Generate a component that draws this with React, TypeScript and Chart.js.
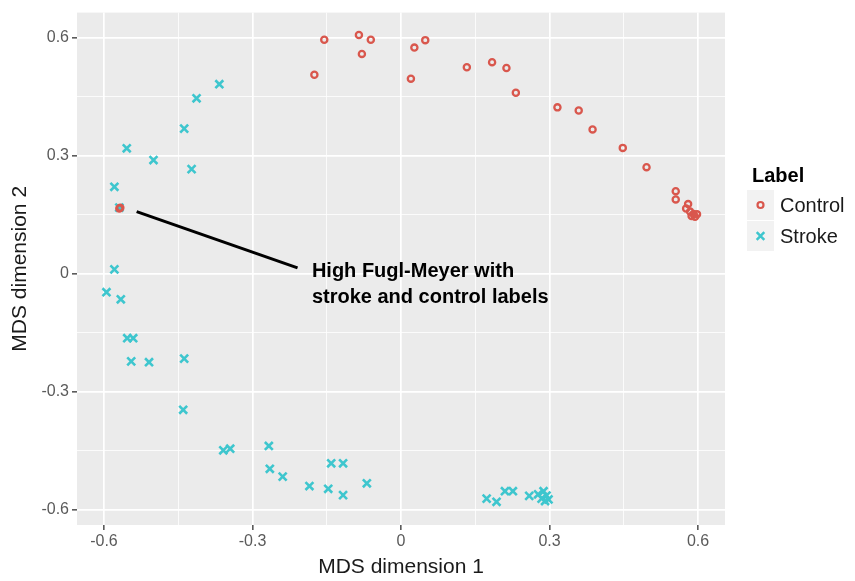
import React, { useEffect, useRef } from 'react';
import { Chart, registerables } from 'chart.js';

Chart.register(...registerables);

// ---------- data ----------
const CONTROL_X = [
  -0.175, -0.155, -0.085, -0.061, -0.079,
  0.020, 0.027, 0.049,
  0.133, 0.184, 0.213, 0.232,
  0.316, 0.359, 0.387,
  0.448, 0.496,
  0.555, 0.555,
  0.580, 0.576, 0.584, 0.591, 0.594, 0.587, 0.598,
  -0.569, -0.567,
];
const CONTROL_Y = [
  0.506, 0.595, 0.607, 0.595, 0.559,
  0.496, 0.575, 0.594,
  0.525, 0.538, 0.523, 0.460,
  0.423, 0.415, 0.367,
  0.320, 0.271,
  0.210, 0.189,
  0.177, 0.166, 0.158, 0.152, 0.145, 0.147, 0.151,
  0.166, 0.168,
];

const STROKE_X = [
  -0.367, -0.413, -0.438, -0.554, -0.500, -0.423, -0.579, -0.569, -0.579,
  -0.595, -0.566, -0.553, -0.541, -0.545, -0.509, -0.438, -0.440,
  -0.359, -0.345, -0.267, -0.265, -0.239, -0.185, -0.141, -0.117, -0.147,
  -0.117, -0.069,
  0.173, 0.193, 0.210, 0.226, 0.259, 0.277, 0.288, 0.294, 0.284, 0.298, 0.291,
];
const STROKE_Y = [
  0.482, 0.446, 0.369, 0.319, 0.289, 0.266, 0.221, 0.168, 0.011,
  -0.047, -0.065, -0.164, -0.164, -0.223, -0.225, -0.216, -0.346,
  -0.449, -0.445, -0.438, -0.496, -0.516, -0.540, -0.482, -0.482, -0.547,
  -0.563, -0.533,
  -0.572, -0.580, -0.553, -0.553, -0.565, -0.561, -0.553, -0.564, -0.572, -0.574, -0.578,
];

const SERIES_NAMES = ['Control', 'Stroke'];
const LEGEND_TITLE = 'Label';
const X_TITLE = 'MDS dimension 1';
const Y_TITLE = 'MDS dimension 2';

const MAJOR_TICKS = [-0.6, -0.3, 0, 0.3, 0.6];
const MAJOR_LABELS = ['-0.6', '-0.3', '0', '0.3', '0.6'];
const MINOR_TICKS = [-0.45, -0.15, 0.15, 0.45];

const X_LIMITS = [-0.6545, 0.6545];
const Y_LIMITS = [-0.639, 0.664];

const ANNOT_LINE_X = [-0.534, -0.209];
const ANNOT_LINE_Y = [0.158, 0.015];
const ANNOT_TEXT_X = -0.180;
const ANNOT_TEXT_Y = -0.008;
const ANNOT_LINES = ['High Fugl-Meyer with', 'stroke and control labels'];

// ---------- style ----------
const FONT = "'Liberation Sans', Arial, Helvetica, sans-serif";
const RED = '#D9574D';
const CYAN = '#3EC6CE';
const PANEL = '#EBEBEB';

const isMajor = (v: number) => MAJOR_TICKS.some((m) => Math.abs(m - v) < 1e-9);
const labelFor = (v: number) => {
  const i = MAJOR_TICKS.findIndex((m) => Math.abs(m - v) < 1e-9);
  return i >= 0 ? MAJOR_LABELS[i] : '';
};

const allTicks = () =>
  [...MAJOR_TICKS, ...MINOR_TICKS].sort((a, b) => a - b).map((v) => ({ value: v }));

export default function App() {
  const ref = useRef<HTMLCanvasElement>(null);

  useEffect(() => {
    document.body.style.margin = '0';
    const canvas = ref.current;
    if (!canvas) return;

    const controlData = CONTROL_X.map((x, i) => ({ x, y: CONTROL_Y[i] }));
    const strokeData = STROKE_X.map((x, i) => ({ x, y: STROKE_Y[i] }));

    const background = {
      id: 'panelBackground',
      beforeDraw(chart: any) {
        const { ctx, chartArea: a, width, height } = chart;
        ctx.save();
        ctx.fillStyle = '#FFFFFF';
        ctx.fillRect(0, 0, width, height);
        ctx.fillStyle = PANEL;
        ctx.fillRect(a.left, a.top, a.right - a.left, a.bottom - a.top);
        ctx.restore();
      },
    };

    const annotation = {
      id: 'annotation',
      afterDatasetsDraw(chart: any) {
        const { ctx } = chart;
        const xs = chart.scales.x;
        const ys = chart.scales.y;
        ctx.save();
        ctx.strokeStyle = '#000000';
        ctx.lineWidth = 3;
        ctx.beginPath();
        ctx.moveTo(xs.getPixelForValue(ANNOT_LINE_X[0]), ys.getPixelForValue(ANNOT_LINE_Y[0]));
        ctx.lineTo(xs.getPixelForValue(ANNOT_LINE_X[1]), ys.getPixelForValue(ANNOT_LINE_Y[1]));
        ctx.stroke();
        ctx.fillStyle = '#000000';
        ctx.font = `bold 20px ${FONT}`;
        ctx.textBaseline = 'alphabetic';
        ctx.textAlign = 'left';
        const tx = xs.getPixelForValue(ANNOT_TEXT_X);
        const ty = ys.getPixelForValue(ANNOT_TEXT_Y);
        ANNOT_LINES.forEach((t, i) => ctx.fillText(t, tx, ty + i * 26));
        ctx.restore();
      },
    };

    const legend = {
      id: 'customLegend',
      afterDraw(chart: any) {
        const { ctx, chartArea } = chart;
        const x0 = chartArea.right + 22;
        ctx.save();
        ctx.fillStyle = '#000000';
        ctx.font = `bold 20px ${FONT}`;
        ctx.textBaseline = 'alphabetic';
        ctx.textAlign = 'left';
        ctx.fillText(LEGEND_TITLE, x0 + 5, 182);
        const rows = [205, 236];
        rows.forEach((cy, i) => {
          ctx.fillStyle = '#F2F2F2';
          ctx.fillRect(x0, cy - 15, 27, 30);
          const cx = x0 + 13.5;
          if (i === 0) {
            ctx.strokeStyle = RED;
            ctx.lineWidth = 2.2;
            ctx.beginPath();
            ctx.arc(cx, cy, 3, 0, Math.PI * 2);
            ctx.stroke();
          } else {
            ctx.strokeStyle = CYAN;
            ctx.lineWidth = 2.5;
            const d = 3.8;
            ctx.beginPath();
            ctx.moveTo(cx - d, cy - d);
            ctx.lineTo(cx + d, cy + d);
            ctx.moveTo(cx - d, cy + d);
            ctx.lineTo(cx + d, cy - d);
            ctx.stroke();
          }
          ctx.fillStyle = '#1A1A1A';
          ctx.font = `20px ${FONT}`;
          ctx.textBaseline = 'middle';
          ctx.fillText(SERIES_NAMES[i], x0 + 33, cy + 1);
        });
        ctx.restore();
      },
    };

    const gridCommon = {
      color: '#FFFFFF',
      lineWidth: (c: any) => (c.tick && isMajor(c.tick.value) ? 1.7 : 0.8),
      tickColor: (c: any) => (c.tick && isMajor(c.tick.value) ? '#333333' : 'rgba(0,0,0,0)'),
      tickWidth: 1.3,
      tickLength: 5,
      drawTicks: true,
    };

    const chart = new Chart(canvas, {
      type: 'scatter',
      data: {
        datasets: [
          {
            label: SERIES_NAMES[0],
            data: controlData,
            pointStyle: 'circle',
            radius: 3.1,
            borderWidth: 2.3,
            borderColor: RED,
            backgroundColor: 'rgba(0,0,0,0)',
          },
          {
            label: SERIES_NAMES[1],
            data: strokeData,
            pointStyle: 'crossRot',
            radius: 5.6,
            borderWidth: 2.6,
            borderColor: CYAN,
            backgroundColor: CYAN,
          },
        ],
      },
      options: {
        responsive: false,
        animation: false,
        events: [],
        layout: { padding: { top: 7, right: 130, left: 0, bottom: 0 } },
        plugins: { legend: { display: false }, tooltip: { enabled: false } },
        scales: {
          x: {
            type: 'linear',
            position: 'bottom',
            min: X_LIMITS[0],
            max: X_LIMITS[1],
            afterBuildTicks: (s: any) => { s.ticks = allTicks(); },
            afterFit: (s: any) => { s.height = 56; },
            border: { display: false },
            grid: gridCommon as any,
            ticks: {
              autoSkip: false,
              maxRotation: 0,
              padding: 2,
              color: '#5A5A5A',
              font: { family: FONT, size: 16 },
              callback: (v: any) => labelFor(Number(v)),
            },
            title: {
              display: true,
              text: X_TITLE,
              color: '#1A1A1A',
              font: { family: FONT, size: 21 },
              padding: { top: 0, bottom: 1 },
            },
          },
          y: {
            type: 'linear',
            position: 'left',
            min: Y_LIMITS[0],
            max: Y_LIMITS[1],
            afterBuildTicks: (s: any) => { s.ticks = allTicks(); },
            afterFit: (s: any) => { s.width = 77; },
            border: { display: false },
            grid: gridCommon as any,
            ticks: {
              autoSkip: false,
              padding: 3,
              color: '#5A5A5A',
              font: { family: FONT, size: 16 },
              callback: (v: any) => labelFor(Number(v)),
            },
            title: {
              display: true,
              text: Y_TITLE,
              color: '#1A1A1A',
              font: { family: FONT, size: 21 },
              padding: { top: 8, bottom: 0 },
            },
          },
        },
      },
      plugins: [background, annotation, legend],
    });

    return () => chart.destroy();
  }, []);

  return <canvas ref={ref} width={855} height={581} style={{ display: 'block' }} />;
}
